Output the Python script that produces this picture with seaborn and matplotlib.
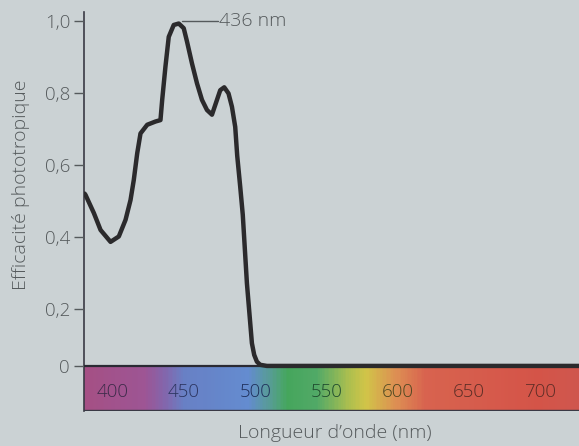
import numpy as np
import pandas as pd
import matplotlib
matplotlib.use("Agg")
import matplotlib.pyplot as plt
from matplotlib.colors import LinearSegmentedColormap
from matplotlib.ticker import FuncFormatter
import seaborn as sns

# spectre d'action phototropique
wavelength = [380.4, 381.1, 386.9, 391.6, 398.6, 404.4, 409.1, 412.6, 414.9, 417.3,
              419.6, 424.3, 430.1, 433.6, 434.8, 437.1, 439.4, 442.9, 446.4, 449.9,
              452.2, 455.7, 459.2, 462.7, 466.2, 469.7, 473.2, 475.5, 478.3, 481.3,
              483.7, 486.0, 487.4, 489.5, 491.3, 494.2, 497.7, 499.3, 501.2, 503.5,
              508.2, 727]
efficacite = [0.521, 0.517, 0.467, 0.420, 0.387, 0.402, 0.448, 0.503, 0.559, 0.633,
              0.688, 0.712, 0.721, 0.725, 0.781, 0.874, 0.956, 0.989, 0.993, 0.980,
              0.943, 0.882, 0.827, 0.781, 0.753, 0.740, 0.781, 0.808, 0.816, 0.799,
              0.762, 0.706, 0.626, 0.540, 0.462, 0.272, 0.080, 0.039, 0.015, 0.004,
              0.0, 0.0]
y_ticks = [0, 0.2, 0.4, 0.6, 0.8, 1.0]
x_ticks = [400, 450, 500, 550, 600, 650, 700]
x_tick_colors = ["#3d2b4a", "#2c3560", "#1f2f5a", "#1e4a2e", "#4b4620", "#5a2d25", "#5d2d26"]
peak_label = "436 nm"

df = pd.DataFrame({"wl": wavelength, "eff": efficacite})

sns.set_theme(style="white")
plt.rcParams["font.family"] = ["Open Sans", "DejaVu Sans"]

bg = "#cbd2d4"
txt = "#555a5c"
fig = plt.figure(figsize=(5.79, 4.46), dpi=100, facecolor=bg)
ax = fig.add_axes([0.1451, 0.0785, 0.8549, 0.8946])
ax.set_facecolor(bg)
ax.set_axisbelow(False)


# l'axe de l'original est tassé entre 0 et 0,2
def fwd(y):
    y = np.asarray(y, dtype=float)
    return np.where(y < 0.2, y * 283.5, 56.7 + (y - 0.2) * 360.4)


def inv(u):
    u = np.asarray(u, dtype=float)
    return np.where(u < 56.7, u / 283.5, 0.2 + (u - 56.7) / 360.4)


ax.set_yscale("function", functions=(fwd, inv))

x_min, x_max = 380, 727
y_min, y_max = -0.159, 1.025
ax.set_xlim(x_min, x_max)
ax.set_ylim(y_min, y_max)

# bande du spectre visible
spec = LinearSegmentedColormap.from_list("spec", [
    (0.00, "#a2457e"), (0.12, "#9a4a8f"), (0.16, "#7e5ca8"), (0.20, "#6079c4"),
    (0.33, "#5b86d0"), (0.38, "#4b9a88"), (0.41, "#3aa352"), (0.47, "#47a65e"),
    (0.54, "#b0bf42"), (0.57, "#d2c33c"), (0.63, "#df8a48"), (0.69, "#da5a44"),
    (0.92, "#d5493c"), (1.00, "#d04c42")])
xe = np.linspace(x_min, x_max, 401)
grad = np.linspace(0, 1, 400).reshape(1, -1)
ax.pcolormesh(xe, [y_min, 0], grad, cmap=spec, shading="flat", zorder=1,
              alpha=0.92, rasterized=True)
ax.plot([x_min, x_max], [0, 0], color="#2a2a33", lw=1.6, zorder=3)
ax.plot([x_min, x_max], [y_min + 0.003, y_min + 0.003], color="#3a3a45", lw=1.0, zorder=3)

sns.lineplot(data=df, x="wl", y="eff", ax=ax, color="#2b2a2c", linewidth=3.2,
             sort=False, zorder=4)
for ln in ax.lines:
    ln.set_solid_joinstyle("round")
    ln.set_solid_capstyle("round")

# repère du maximum
ax.plot([449, 474], [1.0, 1.0], color=txt, lw=1.0, zorder=3)
ax.text(474.5, 1.0, peak_label, fontsize=14, color=txt, va="center", ha="left",
        fontweight="light")

for s in ["top", "right", "bottom"]:
    ax.spines[s].set_visible(False)
ax.spines["left"].set_color("#3a3a45")
ax.spines["left"].set_linewidth(1.2)

ax.set_yticks(y_ticks)
ax.yaxis.set_minor_locator(matplotlib.ticker.NullLocator())
ax.yaxis.set_major_formatter(FuncFormatter(
    lambda v, p: "0" if abs(v) < 1e-9 else f"{v:.1f}".replace(".", ",")))
ax.tick_params(axis="y", left=True, length=7, width=1, color=txt,
               labelsize=13.5, labelcolor=txt, pad=3)

ax.set_xticks(x_ticks)
ax.tick_params(axis="x", bottom=False, labelsize=13.5, pad=-26)
for lab, c in zip(ax.get_xticklabels(), x_tick_colors):
    lab.set_color(c)
for lab in ax.get_xticklabels() + ax.get_yticklabels():
    lab.set_fontweight("light")

ax.set_xlabel("Longueur d\u2019onde (nm)", fontsize=14, color=txt, fontweight="light")
ax.xaxis.set_label_coords(0.507, -0.033)
ax.xaxis.label.set_va("top")
ax.set_ylabel("Efficacité phototropique", fontsize=14, color=txt, fontweight="light")
ax.yaxis.set_label_coords(-0.109, 0.566)

fig.savefig("out.png", dpi=100, facecolor=bg)
